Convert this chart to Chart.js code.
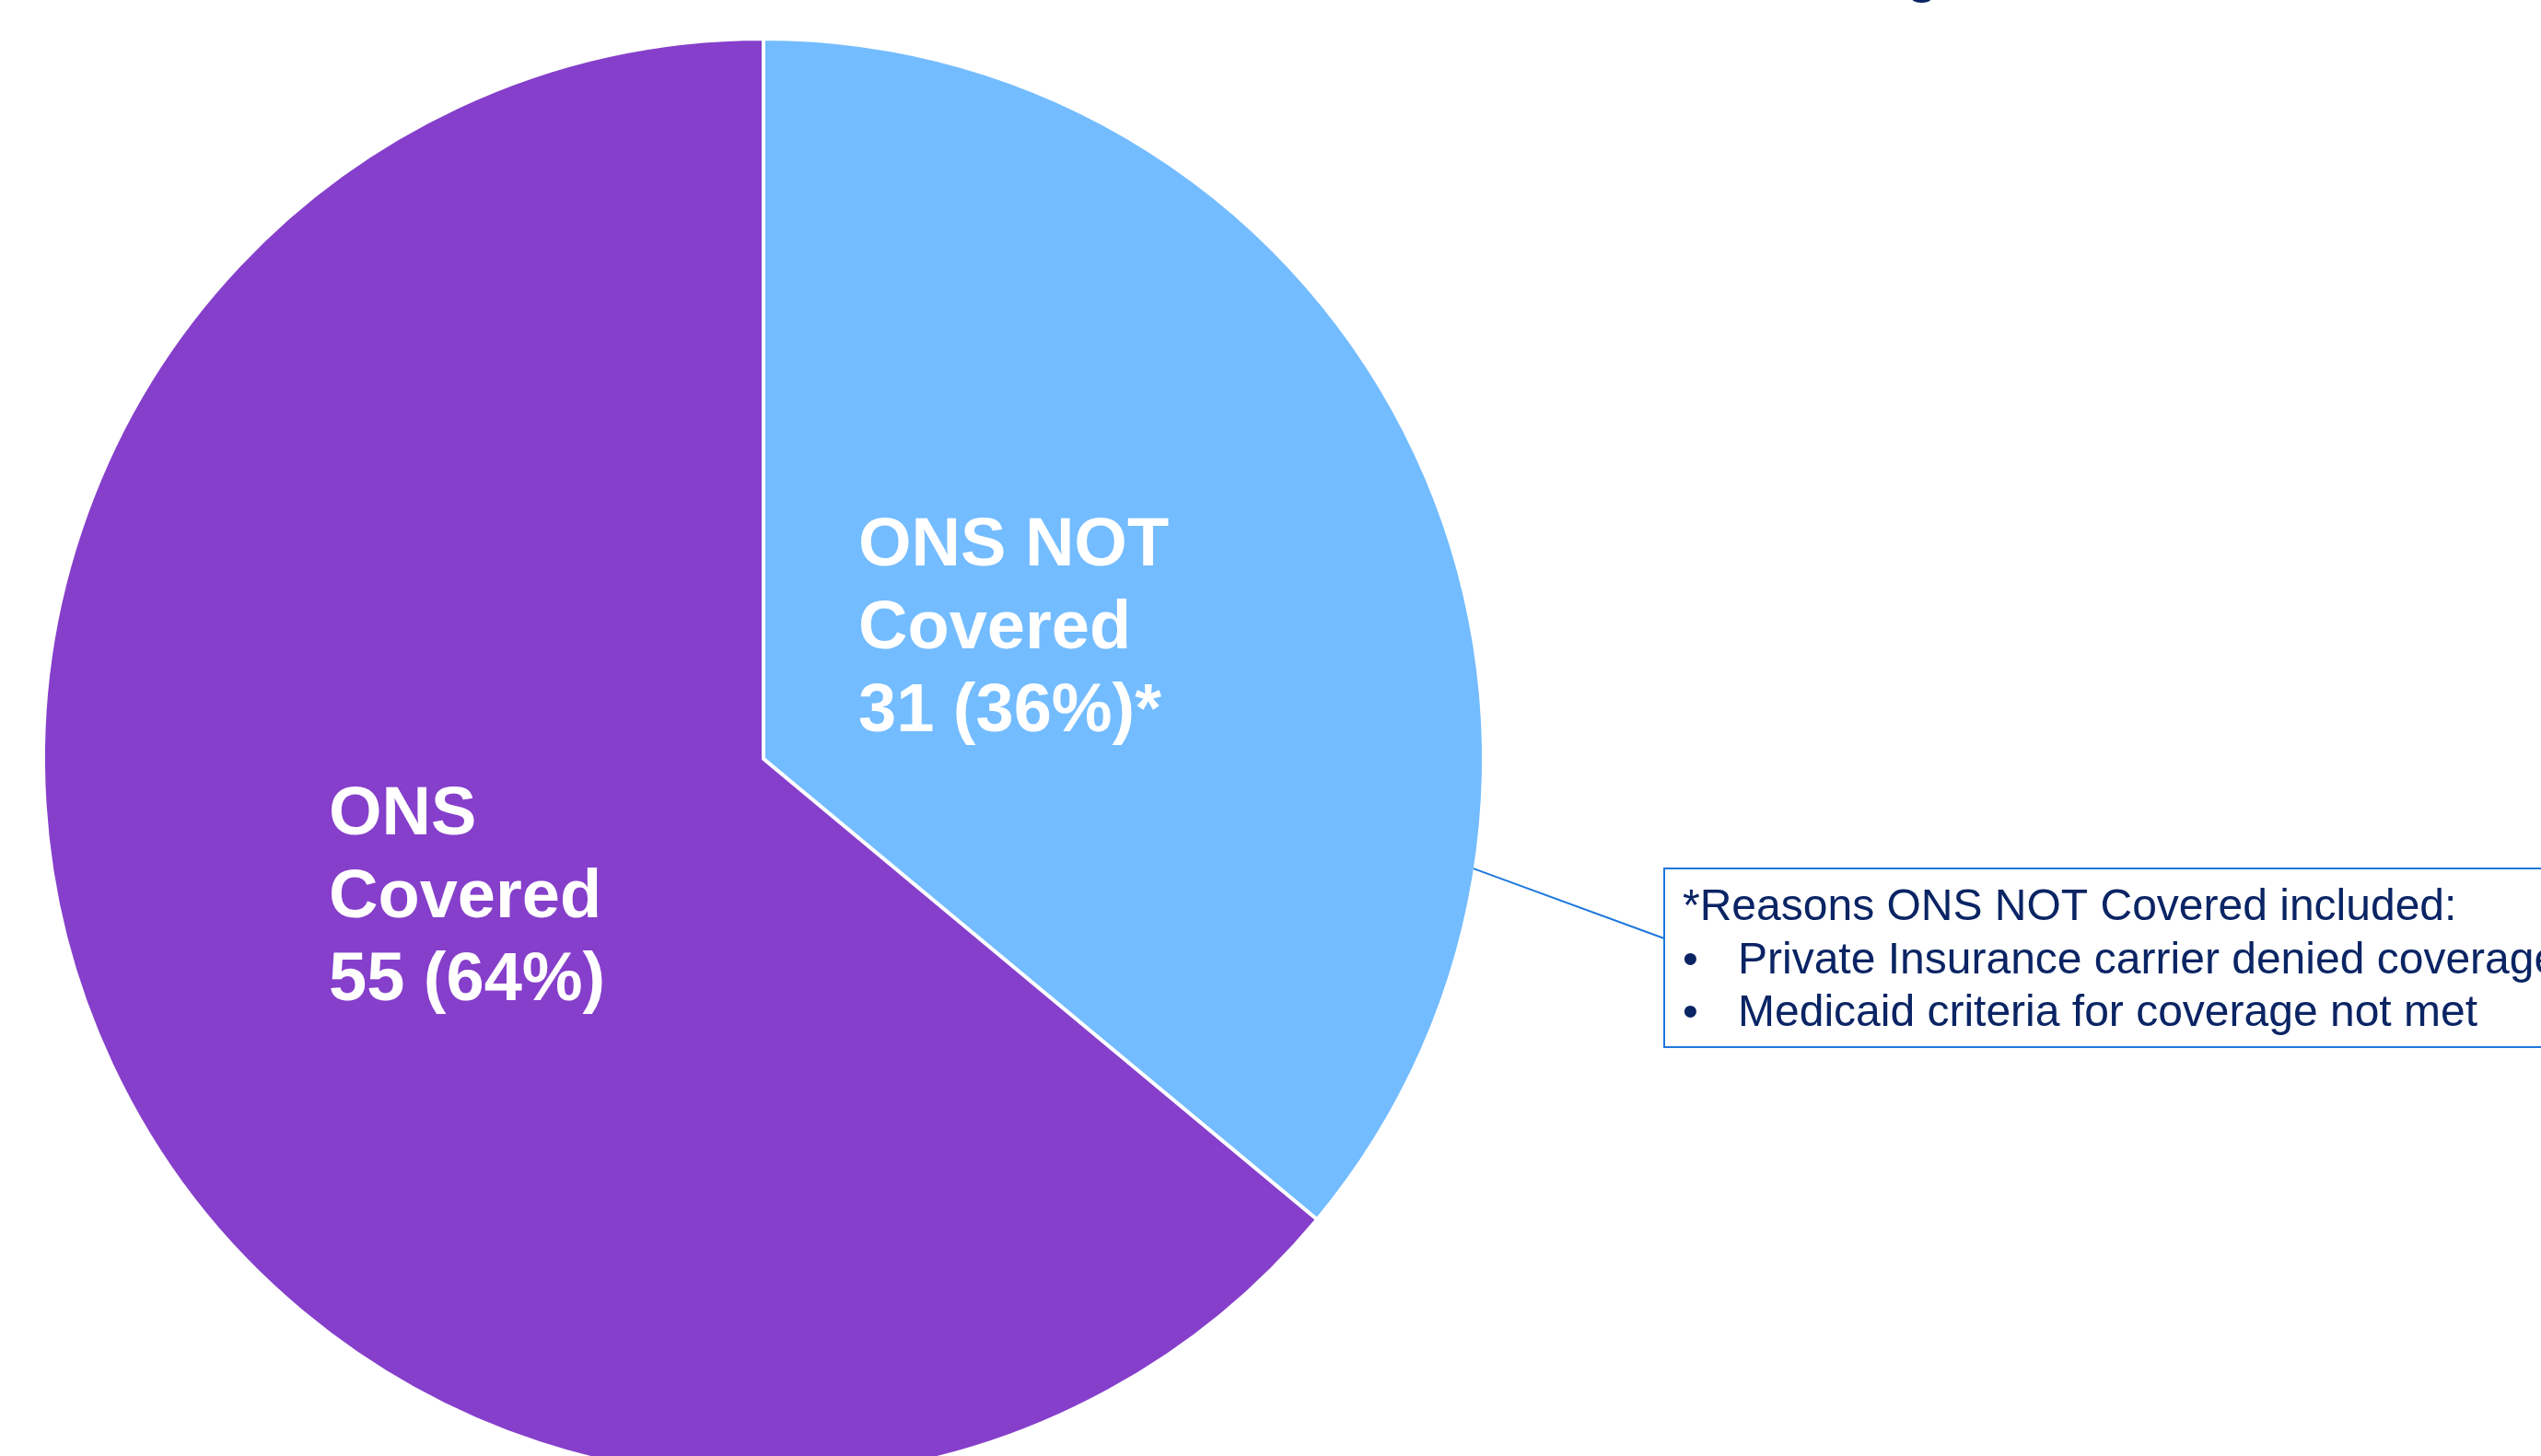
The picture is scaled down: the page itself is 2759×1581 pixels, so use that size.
<!DOCTYPE html>
<html>
<head>
<meta charset="utf-8">
<script src="https://cdn.jsdelivr.net/npm/chart.js@4/dist/chart.umd.min.js"></script>
<style>
  html, body { margin: 0; padding: 0; background: #ffffff; overflow: hidden; }
  #wrap { position: absolute; left: 0; top: 0; width: 2759px; height: 1648px; }
</style>
</head>
<body>
<div id="wrap"><canvas id="c" width="2759" height="1648"></canvas></div>
<script>
// ---- data ----
const categories = ['ONS NOT Covered', 'ONS Covered'];
const counts = [31, 55];
const percents = ['36%', '64%'];
const labelLines = [
  ['ONS NOT', 'Covered', '31 (36%)*'],
  ['ONS', 'Covered', '55 (64%)']
];
const noteTitle = '*Reasons ONS NOT Covered included:';
const noteItems = ['Private Insurance carrier denied coverage', 'Medicaid criteria for coverage not met'];
const titleText = 'Coverage';

// ---- styles ----
const colors = ['#73BCFF', '#863FCB'];
const navy = '#0A2464';
const boxBlue = '#1E78DC';
// label anchors relative to pie centre (px)
const labelAnchor = [{dx: 103, dy: -210}, {dx: -472, dy: 82}];
const lineGap = 90;

const overlay = {
  id: 'overlay',
  afterDatasetsDraw(chart) {
    const ctx = chart.ctx;
    const arcs = chart.getDatasetMeta(0).data;
    const cx = arcs[0].x, cy = arcs[0].y, R = arcs[0].outerRadius;
    ctx.save();
    // slice labels
    ctx.fillStyle = '#ffffff';
    ctx.font = 'bold 74px "Liberation Sans", Arial, sans-serif';
    ctx.textAlign = 'left';
    ctx.textBaseline = 'alphabetic';
    labelLines.forEach((lines, i) => {
      lines.forEach((t, j) => {
        ctx.fillText(t, cx + labelAnchor[i].dx, cy + labelAnchor[i].dy + j * lineGap);
      });
    });
    // callout line from pie edge to note box
    const ang = Math.atan2(119, 770);
    const sx = cx + (R - 2) * Math.cos(ang), sy = cy + (R - 2) * Math.sin(ang);
    const bx = 1807, by = 943, bh = 194;
    ctx.strokeStyle = boxBlue;
    ctx.lineWidth = 2;
    ctx.beginPath();
    ctx.moveTo(sx, sy);
    ctx.lineTo(bx, 1019);
    ctx.stroke();
    // note box
    ctx.fillStyle = '#ffffff';
    ctx.fillRect(bx, by, 1100, bh);
    ctx.lineWidth = 2;
    ctx.strokeRect(bx, by, 1100, bh);
    ctx.fillStyle = navy;
    ctx.font = '48px "Liberation Sans", Arial, sans-serif';
    ctx.fillText(noteTitle, 1827, 999);
    noteItems.forEach((t, k) => {
      const y = 1057 + k * 57;
      ctx.fillText('\u2022', 1827, y);
      ctx.fillText(t, 1887, y);
    });
    // clipped title (only the descender is visible)
    ctx.font = 'bold 56px "Liberation Sans", Arial, sans-serif';
    const pre = ctx.measureText('Covera').width;
    ctx.fillText(titleText, 2070 - pre, -9);
    ctx.restore();
  }
};

new Chart(document.getElementById('c'), {
  type: 'pie',
  data: {
    labels: categories,
    datasets: [{
      data: counts,
      backgroundColor: colors,
      borderColor: '#ffffff',
      borderWidth: 4,
      hoverOffset: 0,
      radius: 782
    }]
  },
  options: {
    responsive: false,
    animation: false,
    devicePixelRatio: 1,
    layout: { padding: { top: 44, bottom: 44, left: 49, right: 1150 } },
    plugins: {
      legend: { display: false },
      tooltip: { enabled: false },
      title: { display: false }
    },
    events: []
  },
  plugins: [overlay]
});
</script>
</body>
</html>
